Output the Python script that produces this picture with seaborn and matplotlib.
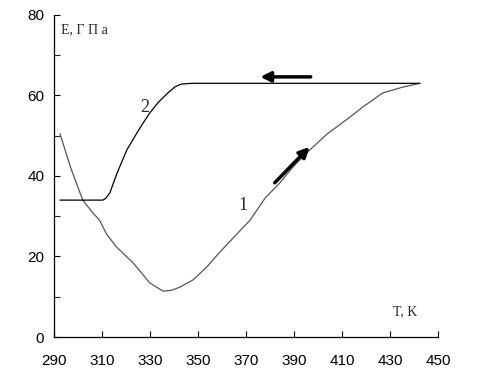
import pandas as pd
import matplotlib
matplotlib.use('Agg')
import matplotlib.pyplot as plt
import seaborn as sns

# curve 1: heating
t_heat = [292.5, 297, 302, 306, 309, 312, 316, 323, 330, 335.5, 339, 342.5, 348,
          353.7, 359, 365, 371.7, 378, 384, 390, 396.7, 404, 412, 418.9, 427, 435, 442.5]
e_heat = [50.5, 42, 34, 31, 29, 25.5, 22.4, 18.4, 13.4, 11.4, 11.6, 12.4, 14.2,
          17.4, 21, 24.8, 29, 34.5, 38.2, 42.5, 46.5, 50.5, 54, 57.2, 60.6, 62, 63]
# curve 2: cooling
t_cool = [442.5, 347.5, 343, 340.4, 337.1, 333.5, 330, 327, 324.6, 320.4, 316.3, 313.3, 311.5, 310.4, 292.5]
e_cool = [63, 63, 62.8, 62.1, 60.4, 58.3, 55.7, 53, 50.7, 46.5, 40.7, 35.8, 34.4, 34, 34]

x_ticks = [290, 310, 330, 350, 370, 390, 410, 430, 450]
y_ticks = [0, 20, 40, 60, 80]

heat = pd.DataFrame({'T': t_heat, 'E': e_heat})
cool = pd.DataFrame({'T': t_cool, 'E': e_cool})

sns.set_style('ticks')
fig = plt.figure(figsize=(4.86, 3.91), dpi=100)
ax = fig.add_axes([0.111, 0.138, 0.79, 0.824])

sns.lineplot(data=heat, x='T', y='E', sort=False, color='#555555', lw=0.9, ax=ax)
sns.lineplot(data=cool, x='T', y='E', sort=False, color='black', lw=0.9, ax=ax)

ax.set_xlim(290, 450)
ax.set_ylim(0, 80)
ax.set_xticks(x_ticks)
ax.set_yticks(y_ticks)
ax.set_yticks(range(10, 80, 20), minor=True)
ax.tick_params(direction='in', length=4, width=0.8, labelsize=11, colors='black')
ax.tick_params(axis='x', pad=12)
ax.tick_params(axis='y', pad=7)
ax.tick_params(which='minor', direction='in', length=4, width=0.8)
for lab in ax.get_xticklabels() + ax.get_yticklabels():
    lab.set_family('Liberation Sans')
ax.set_xlabel('')
ax.set_ylabel('')
sns.despine(ax=ax)
for s in ['left', 'bottom']:
    ax.spines[s].set_linewidth(0.9)
    ax.spines[s].set_color('black')

serif = 'Liberation Serif'
ax.text(293, 75.5, 'E, Г П а', family=serif, fontsize=10)
ax.text(436.3, 5.5, 'T, K', family=serif, fontsize=10, ha='center')
ax.text(326, 56, '2', family=serif, fontsize=13)
ax.text(367, 31.5, '1', family=serif, fontsize=13)

style = dict(arrowstyle='-|>,head_length=0.6,head_width=0.3', lw=2.5,
             color='black', shrinkA=0, shrinkB=0)
ax.annotate('', xy=(376, 64.6), xytext=(397, 64.6), arrowprops=style)
ax.annotate('', xy=(396.5, 47.2), xytext=(382, 38.3), arrowprops=style)

fig.savefig('out.png', dpi=100)
